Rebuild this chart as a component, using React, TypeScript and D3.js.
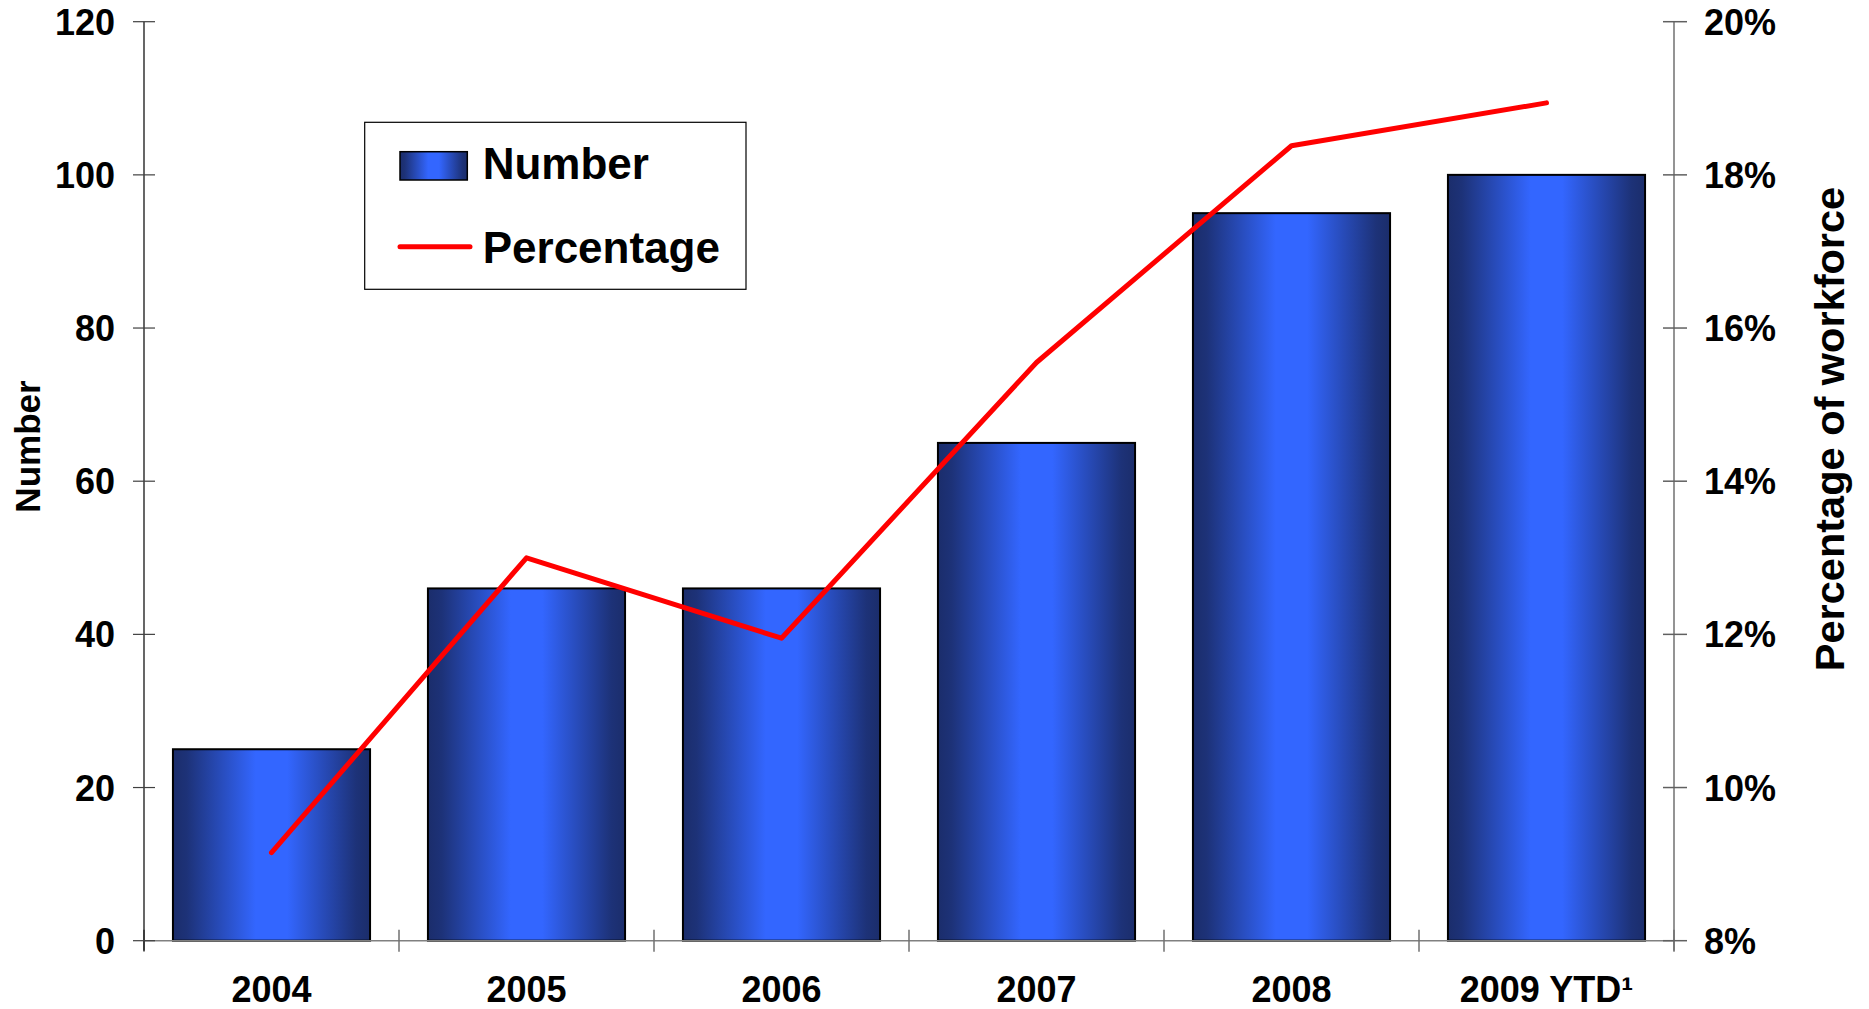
import React from "react";
import * as d3 from "d3";

const categories = ["2004", "2005", "2006", "2007", "2008", "2009 YTD¹"];
const numberValues = [25, 46, 46, 65, 95, 100];
const percentageValues = [9.15, 13.0, 11.95, 15.55, 18.38, 18.94];
const leftTicks = [0, 20, 40, 60, 80, 100, 120];
const rightTicks = [8, 10, 12, 14, 16, 18, 20];

const W = 1869;
const H = 1009;
const X0 = 144;
const X1 = 1674;
const Y0 = 940.7;
const Y1 = 21.7;
const FONT = "'Liberation Sans', Arial, Helvetica, sans-serif";

export default function App() {
  const x = d3
    .scaleBand<string>()
    .domain(categories)
    .range([X0, X1])
    .paddingInner(0.227)
    .paddingOuter(0.1135);
  const yL = d3.scaleLinear().domain([0, 120]).range([Y0, Y1]);
  const yR = d3.scaleLinear().domain([8, 20]).range([Y0, Y1]);
  const step = x.step();
  const cx = (c: string) => (x(c) as number) + x.bandwidth() / 2;

  const line = d3
    .line<number>()
    .x((_, i) => cx(categories[i]))
    .y((d) => yR(d));

  const boundaries = d3.range(categories.length + 1).map((i) => X0 + i * step);

  return (
    <div style={{ position: "absolute", left: 0, top: 0 }}>
      <svg width={W} height={H} style={{ display: "block", background: "#fff" }} fontFamily={FONT}>
        <defs>
          <linearGradient id="barGrad" x1="0" y1="0" x2="1" y2="0">
            <stop offset="0" stopColor="#1b2d6b" />
            <stop offset="0.07" stopColor="#1d3278" />
            <stop offset="0.42" stopColor="#3366ff" />
            <stop offset="0.58" stopColor="#3366ff" />
            <stop offset="0.93" stopColor="#1d3278" />
            <stop offset="1" stopColor="#1b2d6b" />
          </linearGradient>
        </defs>

        {/* bars */}
        {categories.map((c, i) => (
          <rect
            key={c}
            x={x(c)}
            y={yL(numberValues[i])}
            width={x.bandwidth()}
            height={Y0 - yL(numberValues[i])}
            fill="url(#barGrad)"
            stroke="#000"
            strokeWidth={2}
          />
        ))}

        {/* x axis */}
        <line x1={X0} x2={X1} y1={Y0} y2={Y0} stroke="#808080" strokeWidth={1.5} />
        {boundaries.map((b, i) => (
          <line key={i} x1={b} x2={b} y1={Y0 - 11} y2={Y0 + 11} stroke="#707070" strokeWidth={1.5} />
        ))}
        {categories.map((c) => (
          <text key={c} x={cx(c)} y={1002} textAnchor="middle" fontSize={36} fontWeight="bold" fill="#000">
            {c}
          </text>
        ))}

        {/* left axis */}
        <line x1={X0} x2={X0} y1={Y1} y2={Y0 + 10} stroke="#000" strokeWidth={1.2} />
        {leftTicks.map((t) => (
          <g key={t}>
            <line x1={X0 - 11} x2={X0 + 11} y1={yL(t)} y2={yL(t)} stroke="#404040" strokeWidth={1.2} />
            <text x={115} y={yL(t) + 13} textAnchor="end" fontSize={36} fontWeight="bold" fill="#000">
              {t}
            </text>
          </g>
        ))}
        <text
          transform={`translate(40, 446.5) rotate(-90)`}
          textAnchor="middle"
          fontSize={35}
          fontWeight="bold"
          fill="#000"
        >
          Number
        </text>

        {/* right axis */}
        <line x1={X1} x2={X1} y1={Y1} y2={Y0 + 10} stroke="#707070" strokeWidth={1.5} />
        {rightTicks.map((t) => (
          <g key={t}>
            <line x1={X1 - 11} x2={X1 + 13} y1={yR(t)} y2={yR(t)} stroke="#606060" strokeWidth={1.5} />
            <text x={1704} y={yR(t) + 13} textAnchor="start" fontSize={36} fontWeight="bold" fill="#000">
              {t}%
            </text>
          </g>
        ))}
        <text
          transform={`translate(1844, 429) rotate(-90)`}
          textAnchor="middle"
          fontSize={41.5}
          fontWeight="bold"
          fill="#000"
        >
          Percentage of workforce
        </text>

        {/* line */}
        <path
          d={line(percentageValues) || ""}
          fill="none"
          stroke="#ff0000"
          strokeWidth={5}
          strokeLinecap="round"
          strokeLinejoin="round"
        />

        {/* legend */}
        <rect x={364.7} y={122.3} width={381.3} height={167} fill="#fff" stroke="#000" strokeWidth={1.2} />
        <rect x={400} y={151.7} width={67.3} height={28.3} fill="url(#barGrad)" stroke="#000" strokeWidth={1.5} />
        <text x={482.7} y={179.3} fontSize={44} fontWeight="bold" fill="#000">
          Number
        </text>
        <line x1={400} x2={470} y1={246.7} y2={246.7} stroke="#ff0000" strokeWidth={5} strokeLinecap="round" />
        <text x={482.7} y={262.7} fontSize={44} fontWeight="bold" fill="#000">
          Percentage
        </text>
      </svg>
    </div>
  );
}
